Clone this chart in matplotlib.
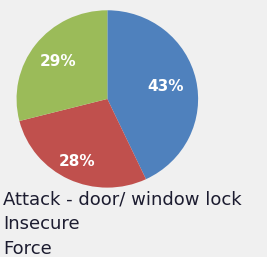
import matplotlib
matplotlib.use("Agg")
import matplotlib.pyplot as plt
import numpy as np

labels = ["Attack - door/ window lock", "Insecure", "Force"]
values = [43, 28, 29]
colors = ["#4f81bd", "#c0504d", "#9bbb59"]
pct_dist = [0.66, 0.78, 0.68]

fig = plt.figure(figsize=(2.67, 2.57), dpi=100)
fig.patch.set_facecolor("#f0f0f0")

ax = fig.add_axes([0.062, 0.27, 0.68, 0.69])
wedges, texts, autotexts = ax.pie(values, colors=colors, startangle=90,
                                  counterclock=False, autopct="%d%%",
                                  textprops=dict(color="white", fontsize=11, fontweight="bold"))
# nudge the percent labels like the original
for t, d, w in zip(autotexts, pct_dist, wedges):
    ang = np.deg2rad((w.theta1 + w.theta2) / 2)
    t.set_position((d * np.cos(ang), d * np.sin(ang)))
ax.set_aspect("auto")
ax.set_xlim(-1, 1)
ax.set_ylim(-1, 1)

# legend as plain text lines
y0 = 1 - 204 / 257
for i, lab in enumerate(labels):
    fig.text(0.012, y0 - i * 25 / 257, lab, fontsize=13,
             color="#1c1c30", va="baseline", ha="left")

fig.savefig("out.png", dpi=100, facecolor=fig.get_facecolor())
